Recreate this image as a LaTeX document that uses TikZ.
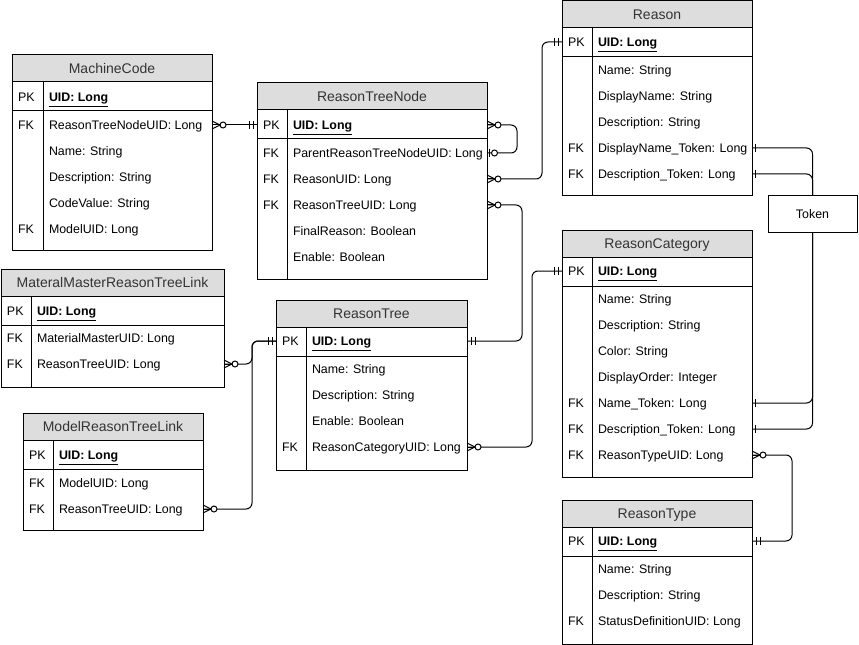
\documentclass[tikz,border=0pt]{standalone}
\usepackage{fontspec}
\setmainfont{Liberation Sans}
\definecolor{hdrfill}{HTML}{DDDDDD}
\definecolor{hdrtext}{HTML}{333333}
\tikzset{
  tbl/.style={draw=black, fill=white, line width=0.75pt, inner sep=0pt, outer sep=0pt, anchor=north west},
  hdr/.style={draw=black, fill=hdrfill, line width=0.75pt, inner sep=0pt, outer sep=0pt, anchor=north west,
    minimum height=20.25pt, font=\fontsize{10.5}{12}\selectfont, text=hdrtext, text height=7.6pt, text depth=0pt},
  keyt/.style={anchor=west, inner sep=0pt, outer sep=0pt, font=\fontsize{9.3}{11}\selectfont, text height=6.6pt, text depth=0pt},
  fieldt/.style={keyt},
  tokbox/.style={draw=black, fill=white, line width=0.75pt, inner sep=0pt, outer sep=0pt,
    minimum width=66.75pt, minimum height=27pt, font=\fontsize{9.3}{11}\selectfont},
  conn/.style={draw=black, line width=0.75pt, rounded corners=4.5pt},
  mk/.style={draw=black, line width=0.75pt},
  zmany/.pic={\draw[mk] (0,-4) -- (8,0) -- (0,4); \draw[mk] (0,0) -- (8,0);
              \draw[mk, fill=white] (11,0) circle[radius=2.25pt];},
  mone/.pic={\draw[mk] (4,-4) -- (4,4) (8,-4) -- (8,4);},
  onebar/.pic={\draw[mk] (3.5,-4) -- (3.5,4);},
  zone/.pic={\draw[mk] (2.5,-4) -- (2.5,4); \draw[mk, fill=white] (7.5,0) circle[radius=2.25pt];},
}
% #1 name, #2 x0, #3 y0, #4 width, #5 height, #6 divider offset, #7 title
\newcommand\ertable[7]{%
  \node[tbl, minimum width=#4*0.75pt, minimum height=#5*0.75pt] (#1) at (#2,#3) {};
  \node[hdr, minimum width=#4*0.75pt] (#1-h) at (#2,#3) {#7};
  \draw[line width=0.75pt] (#2,#3+56) -- (#2+#4,#3+56);
  \draw[line width=0.75pt] (#2+#6,#3+27) -- (#2+#6,#3+#5);
}
% #1 name, #2 x0, #3 divider x, #4 y, #5 key, #6 text
\newcommand\errow[6]{%
  \node[keyt] (#1-k) at (#2+6,#4) {#5};
  \node[fieldt] (#1) at (#3+6,#4) {#6};
}
\newcommand\pkt{\underline{\textbf{UID: Long}}}
\begin{document}
\begin{tikzpicture}[x=0.75pt, y=-0.75pt]
\useasboundingbox (0,0) rectangle (859,645);

% MachineCode
\ertable{mc}{12}{55}{200}{195}{31}{MachineCode}
\errow{mc-pk}{12}{43}{97}{PK}{\pkt}
\errow{mc-r1}{12}{43}{125}{FK}{ReasonTreeNodeUID: Long}
\errow{mc-r2}{12}{43}{151}{}{Name: String}
\errow{mc-r3}{12}{43}{177}{}{Description: String}
\errow{mc-r4}{12}{43}{203}{}{CodeValue: String}
\errow{mc-r5}{12}{43}{229}{FK}{ModelUID: Long}

% ReasonTreeNode
\ertable{rtn}{257}{83}{230}{196}{30}{ReasonTreeNode}
\errow{rtn-pk}{257}{287}{125}{PK}{\pkt}
\errow{rtn-r1}{257}{287}{153}{FK}{ParentReasonTreeNodeUID: Long}
\errow{rtn-r2}{257}{287}{179}{FK}{ReasonUID: Long}
\errow{rtn-r3}{257}{287}{205}{FK}{ReasonTreeUID: Long}
\errow{rtn-r4}{257}{287}{231}{}{FinalReason: Boolean}
\errow{rtn-r5}{257}{287}{257}{}{Enable: Boolean}

% Reason
\ertable{rsn}{562}{0.5}{190}{195}{30}{Reason}
\errow{rsn-pk}{562}{592}{42}{PK}{\pkt}
\errow{rsn-r1}{562}{592}{70}{}{Name: String}
\errow{rsn-r2}{562}{592}{96}{}{DisplayName: String}
\errow{rsn-r3}{562}{592}{122}{}{Description: String}
\errow{rsn-r4}{562}{592}{148}{FK}{DisplayName\_Token: Long}
\errow{rsn-r5}{562}{592}{174}{FK}{Description\_Token: Long}

% Token
\node[tokbox] (tok) at (812.5,214) {Token};

% ReasonCategory
\ertable{rc}{562}{230}{190}{247}{30}{ReasonCategory}
\errow{rc-pk}{562}{592}{271}{PK}{\pkt}
\errow{rc-r1}{562}{592}{299}{}{Name: String}
\errow{rc-r2}{562}{592}{325}{}{Description: String}
\errow{rc-r3}{562}{592}{351}{}{Color: String}
\errow{rc-r4}{562}{592}{377}{}{DisplayOrder: Integer}
\errow{rc-r5}{562}{592}{403}{FK}{Name\_Token: Long}
\errow{rc-r6}{562}{592}{429}{FK}{Description\_Token: Long}
\errow{rc-r7}{562}{592}{455}{FK}{ReasonTypeUID: Long}

% ReasonType
\ertable{rty}{562}{500}{190}{144}{30}{ReasonType}
\errow{rty-pk}{562}{592}{541}{PK}{\pkt}
\errow{rty-r1}{562}{592}{569}{}{Name: String}
\errow{rty-r2}{562}{592}{595}{}{Description: String}
\errow{rty-r3}{562}{592}{621}{FK}{StatusDefinitionUID: Long}

% ReasonTree
\ertable{rt}{276}{300}{191}{170}{30}{ReasonTree}
\errow{rt-pk}{276}{306}{341}{PK}{\pkt}
\errow{rt-r1}{276}{306}{369}{}{Name: String}
\errow{rt-r2}{276}{306}{395}{}{Description: String}
\errow{rt-r3}{276}{306}{421}{}{Enable: Boolean}
\errow{rt-r4}{276}{306}{447}{FK}{ReasonCategoryUID: Long}

% MateralMasterReasonTreeLink
\ertable{mm}{1}{269}{223}{118}{30}{MateralMasterReasonTreeLink}
\errow{mm-pk}{1}{31}{311}{PK}{\pkt}
\errow{mm-r1}{1}{31}{338}{FK}{MaterialMasterUID: Long}
\errow{mm-r2}{1}{31}{364}{FK}{ReasonTreeUID: Long}

% ModelReasonTreeLink
\ertable{mr}{23}{413}{180}{117}{30}{ModelReasonTreeLink}
\errow{mr-pk}{23}{53}{455}{PK}{\pkt}
\errow{mr-r1}{23}{53}{483}{FK}{ModelUID: Long}
\errow{mr-r2}{23}{53}{509}{FK}{ReasonTreeUID: Long}

% connectors
\draw[conn] (mc.east |- mc-r1) -- (rtn.west |- rtn-pk);
\draw[conn] (rtn.east |- rtn-pk) -- ++(30,0) |- (rtn.east |- rtn-r1);
\draw[conn] (rtn.east |- rtn-r2) -- ++(55,0) |- (rsn.west |- rsn-pk);
\draw[conn] (rtn.east |- rtn-r3) -- ++(35,0) |- (rt.east |- rt-pk);
\draw[conn] (rt.east |- rt-r4) -- ++(65,0) |- (rc.west |- rc-pk);
\draw[conn] (mm.east |- mm-r2) -- ++(28,0) |- (rt.west |- rt-pk);
\draw[conn] (mr.east |- mr-r2) -- ++(49,0) |- (rt.west |- rt-pk);
\draw[conn] (rc.east |- rc-r7) -- ++(40,0) |- (rty.east |- rty-pk);
\draw[conn] (rsn.east |- rsn-r4) -| (tok.north);
\draw[conn] (rsn.east |- rsn-r5) -| (tok.north);
\draw[conn] (rc.east |- rc-r5) -| (tok.south);
\draw[conn] (rc.east |- rc-r6) -| (tok.south);

% end markers
\pic at (mc.east |- mc-r1) {zmany};
\pic[xscale=-1] at (rtn.west |- rtn-pk) {mone};
\pic at (rtn.east |- rtn-pk) {zmany};
\pic at (rtn.east |- rtn-r1) {zone};
\pic at (rtn.east |- rtn-r2) {zmany};
\pic[xscale=-1] at (rsn.west |- rsn-pk) {mone};
\pic at (rtn.east |- rtn-r3) {zmany};
\pic at (rt.east |- rt-pk) {mone};
\pic at (rt.east |- rt-r4) {zmany};
\pic[xscale=-1] at (rc.west |- rc-pk) {mone};
\pic at (mm.east |- mm-r2) {zmany};
\pic at (mr.east |- mr-r2) {zmany};
\pic[xscale=-1] at (rt.west |- rt-pk) {mone};
\pic at (rc.east |- rc-r7) {zmany};
\pic at (rty.east |- rty-pk) {mone};
\pic at (rsn.east |- rsn-r4) {onebar};
\pic at (rsn.east |- rsn-r5) {onebar};
\pic at (rc.east |- rc-r5) {onebar};
\pic at (rc.east |- rc-r6) {onebar};
\end{tikzpicture}
\end{document}
